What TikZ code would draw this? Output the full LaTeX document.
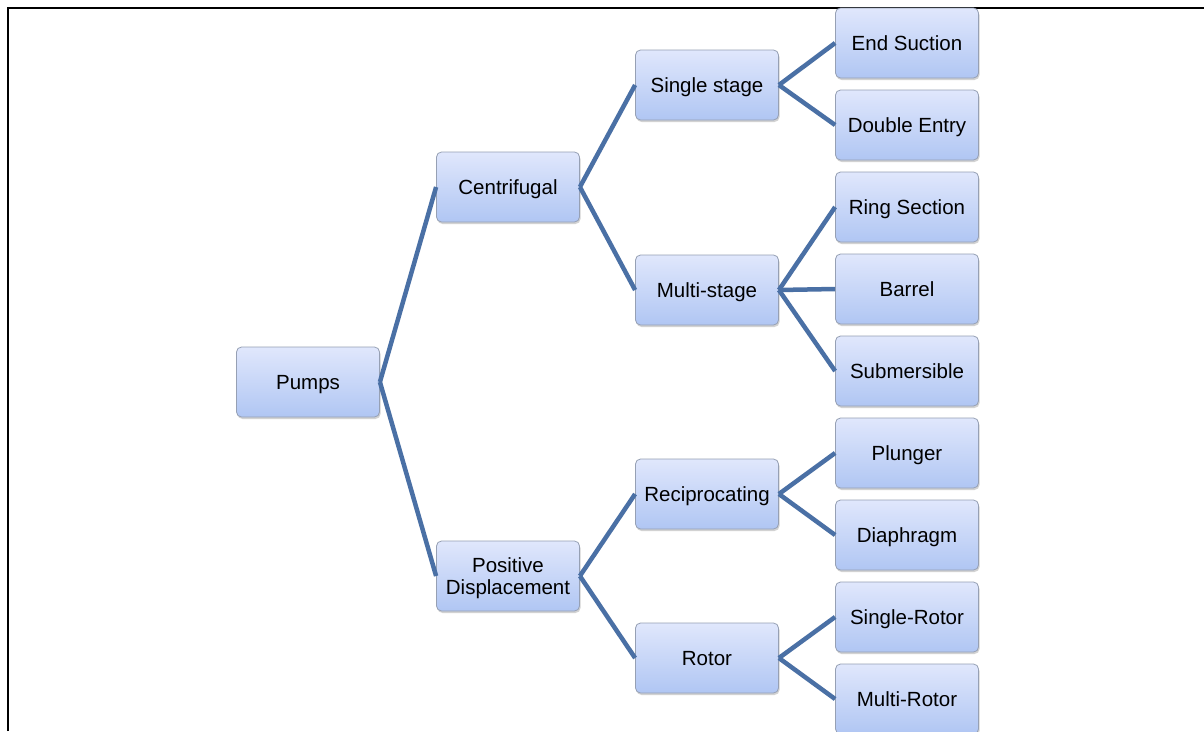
\documentclass[tikz,border=0pt]{standalone}
\usepackage{fontspec}
\setmainfont{Liberation Sans}
\usetikzlibrary{shadows}
\definecolor{boxtop}{RGB}{224,231,252}
\definecolor{boxbot}{RGB}{176,198,243}
\definecolor{boxline}{RGB}{150,160,180}
\definecolor{conn}{RGB}{74,112,165}
\tikzset{
  box/.style={rectangle, rounded corners=5pt, minimum width=143pt, minimum height=70pt,
    top color=boxtop, bottom color=boxbot, draw=boxline, line width=0.8pt,
    drop shadow={opacity=0.35, shadow xshift=1pt, shadow yshift=-2pt},
    font=\fontsize{20.5}{22.5}\selectfont, align=center, inner sep=2pt, text depth=0pt},
  conn/.style={draw=conn, line width=4.5pt},
  frame/.style={draw=black, line width=2.5pt}
}
\begin{document}
\begin{tikzpicture}[x=1pt,y=-1pt]
\useasboundingbox (0,0) rectangle (1204,731);
\fill[white] (0,0) rectangle (1204,731);
\coordinate (f1) at (8,731);
\coordinate (f2) at (8,8);
\coordinate (f3) at (1204,8);
\draw[frame] (f1) -- (f2) -- (f3);

\node[box] (pumps) at (308,382) {Pumps};
\node[box] (cent) at (508,187) {Centrifugal};
\node[box] (pd) at (508,576) {Positive\\Displacement};
\node[box] (single) at (707,85) {Single stage};
\node[box] (multi) at (707,290) {Multi-stage};
\node[box] (recip) at (707,494) {Reciprocating};
\node[box] (rotor) at (707,658) {Rotor};
\node[box] (end) at (907,43) {End Suction};
\node[box] (double) at (907,125) {Double Entry};
\node[box] (ring) at (907,207) {Ring Section};
\node[box] (barrel) at (907,289) {Barrel};
\node[box] (sub) at (907,371) {Submersible};
\node[box] (plunger) at (907,453) {Plunger};
\node[box] (diaph) at (907,535) {Diaphragm};
\node[box] (srotor) at (907,617) {Single-Rotor};
\node[box] (mrotor) at (907,699) {Multi-Rotor};

\draw[conn] (pumps.east) -- (cent.west);
\draw[conn] (pumps.east) -- (pd.west);
\draw[conn] (cent.east) -- (single.west);
\draw[conn] (cent.east) -- (multi.west);
\draw[conn] (pd.east) -- (recip.west);
\draw[conn] (pd.east) -- (rotor.west);
\draw[conn] (single.east) -- (end.west);
\draw[conn] (single.east) -- (double.west);
\draw[conn] (multi.east) -- (ring.west);
\draw[conn] (multi.east) -- (barrel.west);
\draw[conn] (multi.east) -- (sub.west);
\draw[conn] (recip.east) -- (plunger.west);
\draw[conn] (recip.east) -- (diaph.west);
\draw[conn] (rotor.east) -- (srotor.west);
\draw[conn] (rotor.east) -- (mrotor.west);
\end{tikzpicture}
\end{document}
